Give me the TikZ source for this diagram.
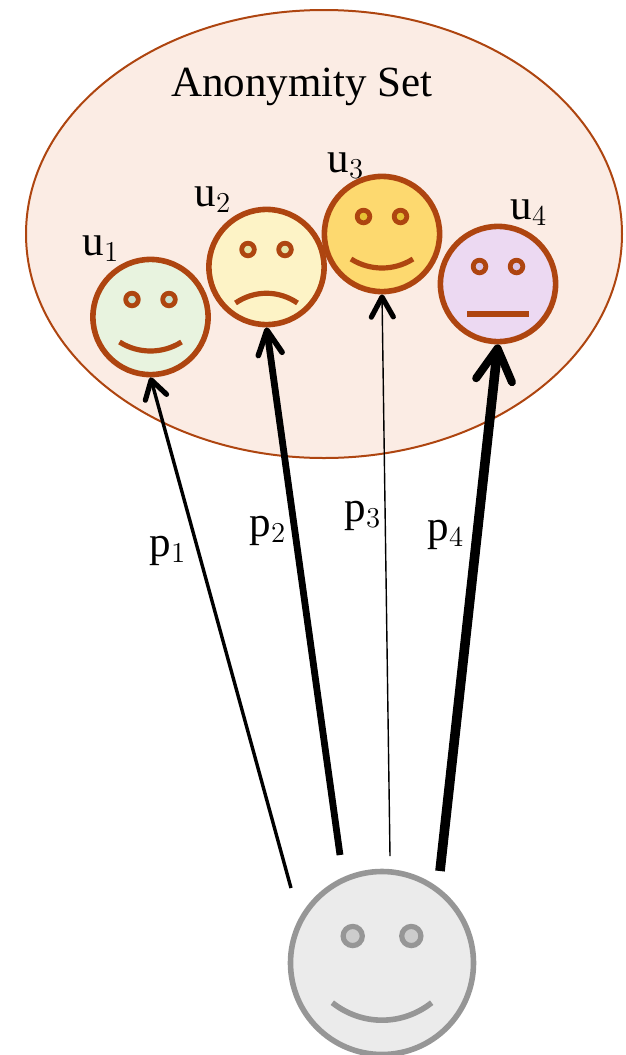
\documentclass[tikz,border=0pt]{standalone}
\usepackage{fontspec}
\setmainfont{Liberation Serif}
\usetikzlibrary{arrows.meta,shapes.geometric}
\definecolor{rust}{HTML}{AE4510}
\definecolor{setfill}{HTML}{FBECE4}
\definecolor{greyline}{HTML}{969696}
\tikzset{
  face/.style={circle,draw=rust,line width=2.8pt,minimum size=57.6pt,inner sep=0pt},
  eye/.style={draw=rust,line width=2.4pt},
  mouth/.style={draw=rust,line width=2.6pt},
  lbl/.style={font=\fontsize{21.5}{26}\selectfont,inner sep=0pt},
  path1/.style={line width=1.7pt,-{Straight Barb[length=9pt,width=11pt,line width=2.6pt,round]}},
  path2/.style={line width=3.4pt,-{Straight Barb[length=12pt,width=12pt,line width=2.8pt,round]}},
  path3/.style={line width=0.7pt,-{Straight Barb[length=10pt,width=11pt,line width=2.6pt,round]}},
  path4/.style={line width=4.8pt,-{Straight Barb[length=16pt,width=18pt,line width=4pt,round]}}
}
\begin{document}
\begin{tikzpicture}[x=0.5pt,y=-0.5pt]
  \useasboundingbox (0,0) rectangle (626,1055);
  \node[ellipse,draw=rust,fill=setfill,line width=1pt,minimum width=298pt,minimum height=224pt,inner sep=0pt] (set) at (324,234) {};
  \node[lbl,font=\fontsize{21.5}{26}\selectfont] (title) at (302,87) {Anonymity Set};
  % labels go first, the faces cover them
  \node[lbl] (l1) at (101,249) {$\mathrm{u}_1$};
  \node[lbl] (l2) at (213,200) {$\mathrm{u}_2$};
  \node[lbl] (l3) at (346,166) {$\mathrm{u}_3$};
  \node[lbl] (l4) at (529,213) {$\mathrm{u}_4$};
  \foreach \n/\x/\y/\c/\e in {u1/150.5/317/E8F3DF/C8E0CC,u2/266.5/267/FDF3C6/E4E4A8,u3/382/234/FDD96F/E6C034,u4/498/284/ECD9F2/D9C5E6}{
    \definecolor{facefill}{HTML}{\c}
    \definecolor{eyefill}{HTML}{\e}
    \node[face,fill=facefill] (\n) at (\x,\y) {};
    \draw[eye,fill=eyefill,shift={(\n.center)}] (-18.5,-17.5) circle (6.3) (18.5,-17.5) circle (6.3);
  }
  \draw[mouth,shift={(u1.center)}] (-31,25) .. controls (-12,37) and (12,37) .. (31,25);
  \draw[mouth,shift={(u2.center)}] (-31,36) .. controls (-12,23) and (12,23) .. (31,36);
  \draw[mouth,shift={(u3.center)}] (-31,25) .. controls (-12,37) and (12,37) .. (31,25);
  \draw[mouth,line width=2.9pt,shift={(u4.center)}] (-31,30) -- (31,30);
  \definecolor{facefill}{HTML}{EBEBEB}
  \node[face,draw=greyline,fill=facefill,minimum size=91.5pt] (me) at (382,963) {};
  \draw[eye,draw=greyline,line width=2.6pt,fill=black!20,shift={(me.center)}] (-29.3,-27) circle (9.6) (29.3,-27) circle (9.6);
  \draw[mouth,draw=greyline,line width=2.8pt,shift={(me.center)}] (-49.7,39.7) .. controls (-20,63) and (20,63) .. (49.7,39.7);
  \coordinate (s1) at (291,888);
  \coordinate (s2) at (340,855);
  \coordinate (s3) at (390,856);
  \coordinate (s4) at (440,871);
  \draw[path1] (s1) -- (u1.south);
  \draw[path2] (s2) -- (u2.south);
  \draw[path3] (s3) -- (u3.south);
  \draw[path4] (s4) -- (u4.south);
  \node[lbl] (p1) at (168,551) {$\mathrm{p}_1$};
  \node[lbl] (p2) at (268,531) {$\mathrm{p}_2$};
  \node[lbl] (p3) at (363,516) {$\mathrm{p}_3$};
  \node[lbl] (p4) at (446,535) {$\mathrm{p}_4$};
\end{tikzpicture}
\end{document}
